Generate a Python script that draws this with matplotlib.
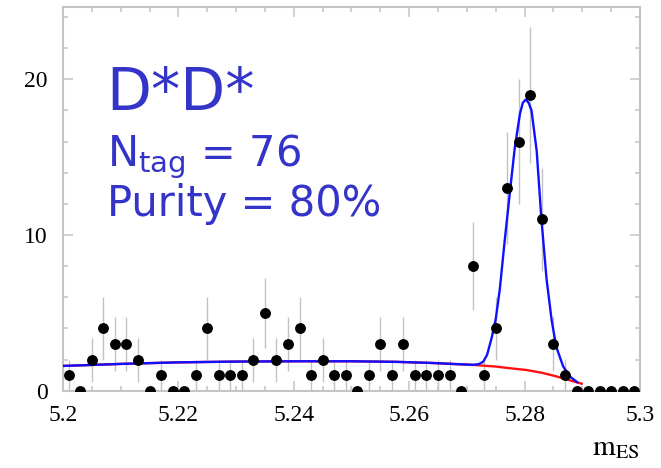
import matplotlib
matplotlib.use('Agg')
import matplotlib.pyplot as plt
import numpy as np
from matplotlib.ticker import MultipleLocator, FixedLocator

# histogram of m_ES, 50 bins between 5.2 and 5.3
bin_edges = np.linspace(5.2, 5.3, 51)
counts = [1, 0, 2, 4, 3, 3, 2, 0, 1, 0,
          0, 1, 4, 1, 1, 1, 2, 5, 2, 3,
          4, 1, 2, 1, 1, 0, 1, 3, 1, 3,
          1, 1, 1, 1, 0, 8, 1, 4, 13, 16,
          19, 11, 3, 1, 0, 0, 0, 0, 0, 0]

# fit curves
bkg_x = [5.200, 5.210, 5.220, 5.230, 5.240, 5.250, 5.258, 5.264, 5.268, 5.2710,
         5.2750, 5.2780, 5.2803, 5.2830, 5.2855, 5.2875, 5.2899]
bkg_y = [1.59, 1.72, 1.82, 1.87, 1.89, 1.89, 1.85, 1.78, 1.71, 1.66,
         1.55, 1.42, 1.33, 1.15, 0.92, 0.70, 0.45]

total_x = [5.200, 5.210, 5.220, 5.230, 5.240, 5.250, 5.258, 5.264, 5.268, 5.2710,
           5.2720, 5.2728, 5.2735, 5.2743, 5.2750, 5.2757, 5.2766, 5.2775, 5.2783,
           5.2792, 5.2797, 5.2802, 5.2807, 5.2812, 5.2821, 5.2829, 5.2838, 5.2847,
           5.2855, 5.2867, 5.2879, 5.2891]
total_y = [1.59, 1.72, 1.82, 1.87, 1.89, 1.89, 1.85, 1.78, 1.71, 1.66,
           1.70, 1.85, 2.3, 3.4, 4.6, 6.5, 9.8, 12.9, 15.6,
           17.8, 18.5, 18.7, 18.5, 18.0, 15.4, 11.1, 7.2, 4.5,
           2.8, 1.55, 0.9, 0.55]

x_ticks = [5.2, 5.22, 5.24, 5.26, 5.28, 5.3]
x_tick_labels = ['5.2', '5.22', '5.24', '5.26', '5.28', '5.3']
y_ticks = [0, 10, 20]

title_text = 'D*D*'
ntag_text = r'N$_{\rm tag}$ = 76'
purity_text = 'Purity = 80%'

centers = 0.5 * (bin_edges[:-1] + bin_edges[1:])
counts = np.array(counts)
errors = np.sqrt(counts)

grey = '#c4c4c4'
text_blue = '#3434c8'

fig = plt.figure(figsize=(6.61, 4.68), dpi=100)
ax = fig.add_axes([0.0953, 0.1652, 0.8729, 0.8199])

ax.plot(bkg_x, bkg_y, color='#ff1010', lw=1.7, zorder=3)
ax.plot(total_x, total_y, color='#1010ff', lw=1.7, zorder=4)

ax.errorbar(centers, counts, yerr=errors, fmt='none', ecolor='#c2c2c2',
            elinewidth=1.0, capsize=0, zorder=2)
ax.plot(centers, counts, 'o', color='black', markersize=6.8, zorder=5)

ax.set_xlim(5.2, 5.3)
ax.set_ylim(0, 24.65)

ax.xaxis.set_major_locator(FixedLocator(x_ticks))
ax.set_xticklabels(x_tick_labels)
ax.xaxis.set_minor_locator(MultipleLocator(0.005))
ax.yaxis.set_major_locator(FixedLocator(y_ticks))
ax.yaxis.set_minor_locator(MultipleLocator(2))

for s in ax.spines.values():
    s.set_color(grey)
    s.set_linewidth(1.5)
ax.tick_params(which='both', direction='in', top=True, right=True,
               color=grey, width=1.1)
ax.tick_params(which='major', length=7.5)
ax.tick_params(which='minor', length=3.8)
ax.tick_params(axis='x', which='major', pad=10)
ax.tick_params(axis='y', which='major', pad=11)
for lab in ax.get_xticklabels() + ax.get_yticklabels():
    lab.set_fontfamily('Liberation Serif')
    lab.set_fontsize(17)

fig.text(0.968, 0.028, r'$\mathrm{m}_{\mathrm{ES}}$', ha='right', va='baseline',
         fontsize=21, math_fontfamily='stix')

fig.text(0.160, 0.765, title_text, color=text_blue, fontsize=42,
         family='DejaVu Sans', va='baseline')
fig.text(0.162, 0.645, ntag_text, color=text_blue, fontsize=30,
         family='DejaVu Sans', math_fontfamily='dejavusans', va='baseline')
fig.text(0.162, 0.5385, purity_text, color=text_blue, fontsize=30,
         family='DejaVu Sans', va='baseline')

plt.savefig('out.png', dpi=100)
